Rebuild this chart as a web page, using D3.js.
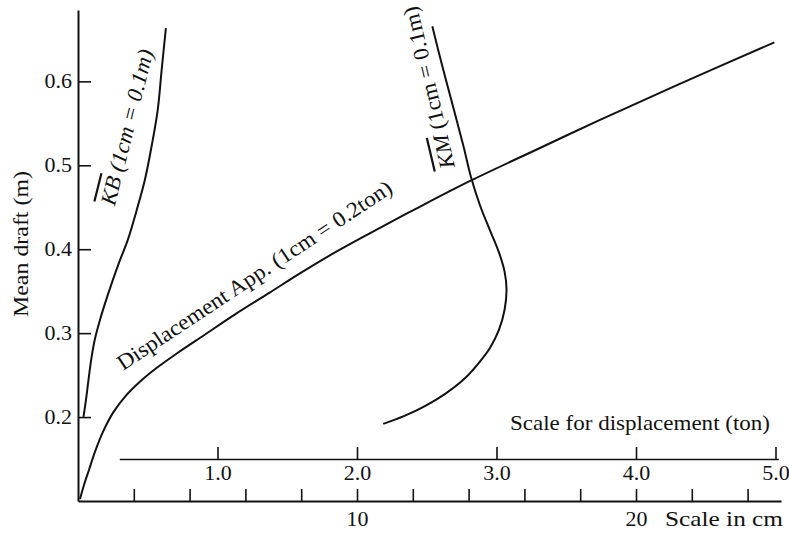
<!DOCTYPE html>
<html><head><meta charset="utf-8">
<script src="https://cdn.jsdelivr.net/npm/d3@7"></script>
<style>
body{margin:0;background:#fff;}
svg{display:block;}
text{font-family:"Liberation Serif","Times New Roman",Times,serif;fill:#111;}
</style></head>
<body><svg id="c" width="789" height="534"></svg>
<script>
// ---- data ----
const draftTicks = [0.2, 0.3, 0.4, 0.5, 0.6];
const draftTickLabels = ["0.2", "0.3", "0.4", "0.5", "0.6"];
const cmTicks = [2, 4, 6, 8, 10, 12, 14, 16, 18, 20, 22, 24];
const cmTickLabels = ["", "", "", "", "10", "", "", "", "", "20", "", ""];
const tonTicks = [1, 2, 3, 4, 5];
const tonTickLabels = ["1.0", "2.0", "3.0", "4.0", "5.0"];

// Displacement curve (x in cm, 1cm = 0.2 ton)
const dispCm    = [0.072, 0.215, 0.393, 0.608, 0.894, 1.252, 1.681, 2.217, 2.825, 3.577, 4.542, 5.615, 6.867, 7.940, 9.013, 10.44, 12.23, 14.09, 16.52, 18.67, 21.53, 24.96];
const dispDraft = [0.1024, 0.1191, 0.1370, 0.1585, 0.1823, 0.2050, 0.2241, 0.2420, 0.2587, 0.2766, 0.2981, 0.3220, 0.3482, 0.3709, 0.3924, 0.4186, 0.4502, 0.4819, 0.5200, 0.5535, 0.5964, 0.6465];
// KB curve (1cm = 0.1m)
const kbCm    = [0.197, 0.286, 0.376, 0.483, 0.608, 0.769, 0.966, 1.216, 1.484, 1.788, 2.11, 2.40, 2.65, 2.86, 3.00, 3.15];
const kbDraft = [0.2002, 0.2205, 0.2444, 0.2706, 0.2933, 0.3136, 0.3351, 0.3601, 0.3852, 0.4115, 0.4473, 0.4831, 0.5248, 0.5666, 0.6143, 0.6633];
// KM curve (1cm = 0.1m)
const kmCm    = [12.70, 13.05, 13.45, 13.81, 14.09, 14.41, 14.77, 15.09, 15.29, 15.36, 15.29, 15.09, 14.77, 14.34, 13.81, 13.16, 12.45, 11.70, 10.94];
const kmDraft = [0.6656, 0.6191, 0.5690, 0.5236, 0.4854, 0.4521, 0.4222, 0.3959, 0.3733, 0.3518, 0.3279, 0.3041, 0.2826, 0.2635, 0.2444, 0.2277, 0.2134, 0.2014, 0.1919];

// ---- drawing ----
const svg = d3.select("#c");
const x = d3.scaleLinear().domain([0, 25.2]).range([78, 78 + 25.2 * 27.9]);
const y = d3.scaleLinear().domain([0.1, 0.685]).range([501, 10]);
const ton = d3.scaleLinear().domain([0.296, 5.02]).range([x(0.296 * 5), x(5.02 * 5)]);

function styleAxis(g, w) {
  g.attr("font-family", null).attr("font-size", null);
  g.select(".domain").attr("stroke", "#111").attr("stroke-width", w);
  g.selectAll(".tick line").attr("stroke", "#111").attr("stroke-width", 1.6);
  g.selectAll(".tick text").attr("font-size", 20).attr("fill", "#111");
}

// Y axis
const yAxis = svg.append("g").attr("transform", "translate(78,0)")
  .call(d3.axisLeft(y).tickValues(draftTicks)
    .tickFormat((d, i) => draftTickLabels[i]).tickSizeInner(-13).tickSizeOuter(0).tickPadding(6));
styleAxis(yAxis, 2);

// Bottom cm axis
const xAxis = svg.append("g").attr("transform", "translate(0,501)")
  .call(d3.axisBottom(x).tickValues(cmTicks)
    .tickFormat((d, i) => cmTickLabels[i]).tickSizeInner(-12).tickSizeOuter(0).tickPadding(11));
styleAxis(xAxis, 2);

// Ton axis
const tAxis = svg.append("g").attr("transform", "translate(0,459)")
  .call(d3.axisBottom(ton).tickValues(tonTicks)
    .tickFormat((d, i) => tonTickLabels[i]).tickSizeInner(-12).tickSizeOuter(0).tickPadding(7));
styleAxis(tAxis, 1.6);

// widen tick labels a bit to match the wide serif of the original
svg.selectAll(".tick text").each(function () {
  const l = this.getComputedTextLength();
  if (l > 0) d3.select(this).attr("textLength", l * 1.1).attr("lengthAdjust", "spacingAndGlyphs");
});

// Curves
const line = d3.line().x(d => x(d[0])).y(d => y(d[1])).curve(d3.curveCatmullRom.alpha(0.5));
function drawCurve(xs, ys) {
  svg.append("path").datum(xs.map((v, i) => [v, ys[i]]))
    .attr("d", line).attr("fill", "none").attr("stroke", "#111").attr("stroke-width", 2);
}
drawCurve(dispCm, dispDraft);
drawCurve(kbCm, kbDraft);
drawCurve(kmCm, kmDraft);

// Text labels
function label(txt, px, py, rot, len, opts = {}) {
  const t = svg.append("text")
    .attr("transform", `translate(${px},${py}) rotate(${rot})`)
    .attr("text-anchor", opts.anchor || "middle")
    .attr("font-size", opts.size || 22);
  if (opts.parts) {
    opts.parts.forEach(p => {
      const s = t.append("tspan").text(p.t);
      if (p.italic) s.attr("font-style", "italic");
      if (p.over) s.attr("text-decoration", "overline");
    });
  } else t.text(txt);
  if (len) t.attr("textLength", len).attr("lengthAdjust", "spacingAndGlyphs");
  return t;
}

label("Mean draft (m)", 28, 244, -90, 146, { size: 21 });
label("Scale for displacement (ton)", 510, 430, 0, 260, { anchor: "start" });
label("Scale in cm", 665, 526, 0, 118, { anchor: "start", size: 21 });
label(null, 258.5, 281.3, -33.5, 325, { parts: [{ t: "Displacement App. (1cm = 0.2ton)" }] });
label(null, 134, 129, -76, 160, { parts: [{ t: "KB", italic: true, over: true }, { t: " (1cm = 0.1m)", italic: true }] });
label(null, 436, 86, -103.3, 166, { parts: [{ t: "KM", italic: true, over: true }, { t: " (1cm = 0.1m)" }] });
</script></body></html>
